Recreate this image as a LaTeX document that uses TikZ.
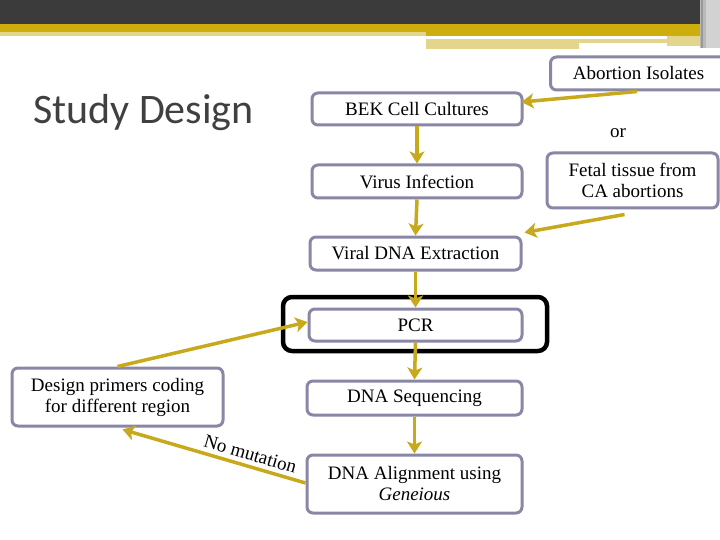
\documentclass[tikz,border=0pt]{standalone}
\usepackage{fontspec}
\setmainfont{Liberation Serif}
\newfontfamily\titlefont{Carlito}
\usetikzlibrary{arrows.meta}
\definecolor{boxborder}{HTML}{8A87A6}
\definecolor{gold}{HTML}{C8A91C}
\definecolor{hdrdark}{HTML}{3B3B3B}
\definecolor{hdrgold}{HTML}{CDAE0C}
\definecolor{hdrlight}{HTML}{E3D68C}
\definecolor{titlegray}{HTML}{404040}
\begin{document}
\begin{tikzpicture}[x=1pt,y=-1pt,
  stepbox/.style={draw=boxborder, line width=3pt, rounded corners=6pt, fill=white,
    font=\fontsize{19}{21}\selectfont, align=center, inner sep=0pt},
  flow/.style={draw=gold, line width=3.5pt, -{Stealth[length=12pt,width=15pt,inset=3pt]}},
  lbl/.style={font=\fontsize{19}{21}\selectfont, inner sep=0pt}]
\useasboundingbox (0,0) rectangle (720,540);
\clip (0,0) rectangle (720,540);
\fill[white] (0,0) rectangle (720,540);
% header bars
\fill[hdrdark] (0,0) rectangle (720,24);
\fill[hdrgold] (0,24) rectangle (720,32);
\fill[hdrlight] (0,32) rectangle (426,36);
\fill[hdrgold] (426,32) rectangle (720,36);
\fill[hdrlight] (426,39) rectangle (667,43);
\fill[hdrlight] (426,43) rectangle (579,49);
\fill[hdrlight] (667,36) rectangle (700,46);
\fill[gray!55] (700,0) rectangle (720,48);
\fill[gray!80] (701,0) rectangle (703,48);
\fill[gray!35] (706,0) rectangle (720,48);
% title
\node[anchor=base west, inner sep=0pt, text=titlegray, font=\titlefont\fontsize{42}{46}\selectfont] (title) at (33,124) {Study Design};
% highlight frame
\node[draw=black, line width=4.5pt, rounded corners=9pt, minimum width=264pt, minimum height=54pt, inner sep=0pt] (hl) at (415,324) {};
% boxes
\node[stepbox, minimum width=210pt, minimum height=32pt] (bek) at (417,109) {BEK Cell Cultures};
\node[stepbox, minimum width=210pt, minimum height=33pt] (virus) at (417,181.5) {Virus Infection};
\node[stepbox, minimum width=211pt, minimum height=33pt] (viral) at (415.5,253.5) {Viral DNA Extraction};
\node[stepbox, minimum width=213pt, minimum height=32pt] (pcr) at (415.5,325) {PCR};
\node[stepbox, minimum width=215pt, minimum height=34pt] (seq) at (414.5,398) {DNA Sequencing};
\node[stepbox, minimum width=215pt, minimum height=58pt] (align) at (414.5,484) {DNA Alignment using\\\textit{Geneious}};
\node[stepbox, minimum width=211pt, minimum height=58pt] (design) at (117.5,397) {Design primers coding\\for different region};
\node[stepbox, minimum width=171pt, minimum height=55pt] (fetal) at (632.5,180.5) {Fetal tissue from\\CA abortions};
\node[stepbox, anchor=west, minimum height=33pt] (abort) at (549,73.5) {\makebox[260pt][l]{\makebox[176pt][c]{Abortion Isolates}}};
\node[lbl] (or) at (618,133) {or};
% connectors
\draw[flow] (bek.south) -- (virus.north);
\draw[flow] (virus.south) -- (viral.north);
\draw[flow] (viral.south) -- (pcr.north);
\draw[flow] (pcr.south) -- (seq.north);
\draw[flow] (seq.south) -- (align.north);
\draw[flow] ([xshift=88pt]abort.south west) -- ([xshift=-2pt,yshift=7pt]bek.east);
\draw[flow] ([xshift=-8pt,yshift=-5pt]fetal.south) -- ([xshift=2pt,yshift=3pt]viral.north east);
\draw[flow] (design.north) -- ([yshift=3pt]pcr.west);
\draw[flow] ([yshift=1pt]align.west) -- node[pos=0.32, sloped, above=4pt, lbl] {No mutation} ([xshift=5pt,yshift=-2pt]design.south);
\end{tikzpicture}
\end{document}
